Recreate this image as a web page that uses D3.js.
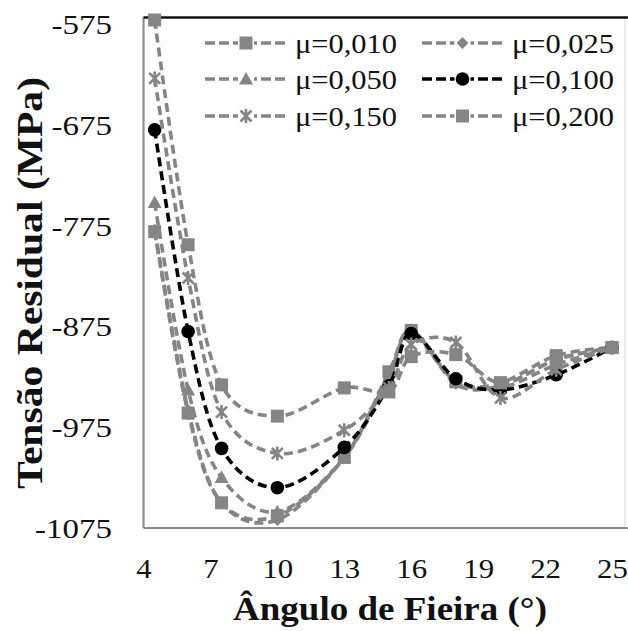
<!DOCTYPE html>
<html>
<head>
<meta charset="utf-8">
<script src="https://cdn.jsdelivr.net/npm/d3@7"></script>
<style>
  html, body { margin: 0; padding: 0; background: #fff; }
  svg { display: block; }
</style>
</head>
<body>
<svg id="chart" width="628" height="631"></svg>
<script>
// ---- data ----
const xTicks = [4, 7, 10, 13, 16, 19, 22, 25];
const yTicks = [-575, -675, -775, -875, -975, -1075];
const angles = [4.5, 6, 7.5, 10, 13, 15, 16, 18, 20, 22.5, 25];
const seriesNames = ["μ=0,010", "μ=0,025", "μ=0,050", "μ=0,100", "μ=0,150", "μ=0,200"];
const mu010 = [-781, -961, -1050, -1063, -1005, -920, -879, -930, -931, -904, -896];
const mu025 = [-779, -958, -1050, -1067, -1005, -923, -879, -932, -934, -908, -896];
const mu050 = [-752, -938, -1025, -1059, -1005, -926, -883, -929, -936, -913, -896];
const mu100 = [-680, -880, -996, -1035, -995, -934, -882, -927, -938, -923, -896];
const mu150 = [-629, -827, -960, -1001, -978, -936, -893, -891, -946, -918, -896];
const mu200 = [-571, -794, -933, -964, -936, -940, -905, -903, -931, -908, -896];
const seriesValues = [mu010, mu025, mu050, mu100, mu150, mu200];
const markerTypes = ["square", "diamond", "triangle", "circle", "star", "square"];
const seriesColors = ["#858585", "#858585", "#858585", "#000000", "#858585", "#858585"];

(function () {
const svg = d3.select("#chart");
const pL = 143.5, pR = 628, pT = 17.5, pB = 528;
const x = d3.scaleLinear().domain([4, 25]).range([143.5, 612]);
const y = d3.scaleLinear().domain([-1075, -575]).range([528, 24]);
const serif = "'Liberation Serif'";

// frame
svg.append("line").attr("x1", 625).attr("x2", 625).attr("y1", pT).attr("y2", pB)
  .attr("stroke", "#e4e4e4").attr("stroke-width", 1.5);
svg.append("line").attr("x1", pL).attr("x2", pR).attr("y1", pB).attr("y2", pB)
  .attr("stroke", "#8c8c8c").attr("stroke-width", 2.2);
svg.append("line").attr("x1", pL).attr("x2", pL).attr("y1", pT).attr("y2", pB)
  .attr("stroke", "#8c8c8c").attr("stroke-width", 2.2);
svg.append("line").attr("x1", pL).attr("x2", pR).attr("y1", pT).attr("y2", pT)
  .attr("stroke", "#111").attr("stroke-width", 2.6);

// axes
const xAxis = svg.append("g").attr("transform", `translate(0,${pB})`)
  .call(d3.axisBottom(x).tickValues(xTicks).tickSize(0).tickFormat(d => String(d)));
xAxis.select(".domain").remove();
xAxis.selectAll("text").attr("y", 50).attr("dy", 0)
  .attr("transform", "scale(1.1,1)")
  .style("font-family", serif).style("font-size", "28px").attr("fill", "#111");

const yAxis = svg.append("g").attr("transform", `translate(${pL},0)`)
  .call(d3.axisLeft(y).tickValues(yTicks).tickSize(0).tickFormat(d => String(d)));
yAxis.select(".domain").remove();
yAxis.selectAll("text").attr("x", 0).attr("dy", "0.34em")
  .attr("transform", "translate(-31.5,0) scale(1.18,1)")
  .style("font-family", serif).style("font-size", "28px").attr("fill", "#111");

// titles
svg.append("text").attr("x", 390).attr("y", 620).attr("text-anchor", "middle")
  .attr("textLength", 314).attr("lengthAdjust", "spacingAndGlyphs")
  .style("font-family", serif).style("font-size", "34px").style("font-weight", "bold")
  .attr("fill", "#111").text("Ângulo de Fieira (°)");
svg.append("text").attr("transform", "translate(42,283) rotate(-90)").attr("text-anchor", "middle")
  .attr("textLength", 412).attr("lengthAdjust", "spacingAndGlyphs")
  .style("font-family", serif).style("font-size", "36px").style("font-weight", "bold")
  .attr("fill", "#111").text("Tensão Residual (MPa)");

// markers
function drawMarker(g, type, color) {
  if (type === "square") {
    g.append("rect").attr("x", -6.5).attr("y", -6.5).attr("width", 13).attr("height", 13).attr("fill", color);
  } else if (type === "diamond") {
    g.append("path").attr("d", "M0,-6 L6,0 L0,6 L-6,0 Z").attr("fill", color);
  } else if (type === "triangle") {
    g.append("path").attr("d", "M0,-7 L7,5.5 L-7,5.5 Z").attr("fill", color);
  } else if (type === "circle") {
    g.append("circle").attr("r", 6.8).attr("fill", color);
  } else if (type === "star") {
    g.append("path").attr("d", "M-5.5,-5.5 L5.5,5.5 M-5.5,5.5 L5.5,-5.5 M0,-7 L0,7")
      .attr("stroke", color).attr("stroke-width", 2.6).attr("fill", "none");
  }
}

// series
const line = d3.line().x((d, i) => x(angles[i])).y(d => y(d)).curve(d3.curveCatmullRom.alpha(0));
seriesValues.forEach((vals, si) => {
  const g = svg.append("g");
  g.append("path").attr("d", line(vals)).attr("fill", "none")
    .attr("stroke", seriesColors[si]).attr("stroke-width", 3.6).attr("stroke-dasharray", "9,5");
  vals.forEach((v, i) => {
    const m = g.append("g").attr("transform", `translate(${x(angles[i])},${y(v)})`);
    drawMarker(m, markerTypes[si], seriesColors[si]);
  });
});

// legend
const legCols = [{x1: 205, x2: 287, tx: 295}, {x1: 422, x2: 503, tx: 512}];
const legRows = [43, 79, 116];
seriesNames.forEach((name, i) => {
  const c = legCols[i % 2], r = legRows[Math.floor(i / 2)];
  const g = svg.append("g");
  g.append("line").attr("x1", c.x1).attr("x2", c.x2).attr("y1", r).attr("y2", r)
    .attr("stroke", seriesColors[i]).attr("stroke-width", 3.6).attr("stroke-dasharray", "10,4");
  const m = g.append("g").attr("transform", `translate(${(c.x1 + c.x2) / 2},${r})`);
  m.append("rect").attr("x", -8).attr("y", -8).attr("width", 16).attr("height", 16).attr("fill", "#fff");
  drawMarker(m, markerTypes[i], seriesColors[i]);
  g.append("text").attr("x", c.tx).attr("y", r + 9.5)
    .attr("textLength", 102).attr("lengthAdjust", "spacingAndGlyphs")
    .style("font-family", serif).style("font-size", "28px").attr("fill", "#111").text(name);
});
})();
</script>
</body>
</html>
